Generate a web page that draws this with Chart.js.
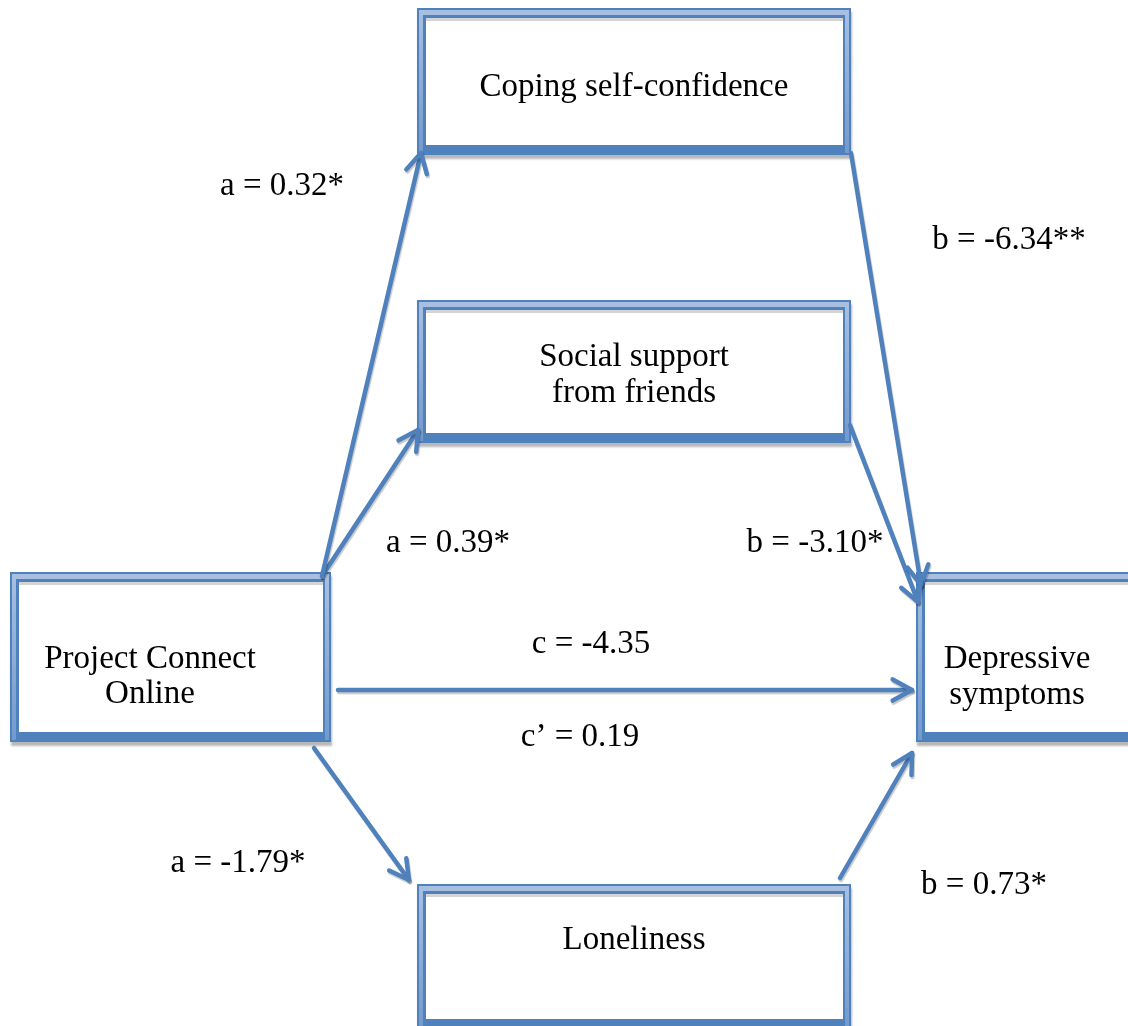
<!DOCTYPE html>
<html>
<head>
<meta charset="utf-8">
<script src="https://cdn.jsdelivr.net/npm/chart.js@4/dist/chart.umd.min.js"></script>
<style>
  html, body { margin: 0; padding: 0; background: #fff; }
  #wrap { width: 1128px; height: 1026px; }
</style>
</head>
<body>
<div id="wrap"><canvas id="pathChart" width="1128" height="1026"></canvas></div>
<script>
/* Mediation model: Project Connect Online -> mediators -> depressive symptoms */

// Data
const nodeNames = ['Project Connect\nOnline', 'Coping self-confidence', 'Social support\nfrom friends', 'Loneliness', 'Depressive\nsymptoms'];
const aCoef = [0.32, 0.39, -1.79];      // intervention -> mediator
const aSig = ['*', '*', '*'];
const bCoef = [-6.34, -3.10, 0.73];     // mediator -> outcome
const bSig = ['**', '*', '*'];
const cTotal = -4.35;
const cDirect = 0.19;

// Layout (pixels in the 1128 x 1026 drawing space)
const boxes = [
    { x0: 10, y0: 572, x1: 331, y1: 742, tx: 150, ty: [659, 694] },
    { x0: 417, y0: 8, x1: 851, y1: 155, tx: 634, ty: [87] },
    { x0: 417, y0: 300, x1: 851, y1: 443, tx: 634, ty: [357, 393] },
    { x0: 417, y0: 884, x1: 851, y1: 1029, tx: 634, ty: [940] },
    { x0: 916, y0: 572, x1: 1140, y1: 742, tx: 1017, ty: [659, 695] }
];
const arrows = [
    { from: { x: 322, y: 576 }, to: { x: 421, y: 153 } },
    { from: { x: 322, y: 576 }, to: { x: 418, y: 430 } },
    { from: { x: 314, y: 748 }, to: { x: 409, y: 880 } },
    { from: { x: 851, y: 153 }, to: { x: 921, y: 585 } },
    { from: { x: 850, y: 425 }, to: { x: 918, y: 602 } },
    { from: { x: 840, y: 878 }, to: { x: 912, y: 753 } },
    { from: { x: 338, y: 690 }, to: { x: 912, y: 690 } }
];
const aPos = [{ x: 282, y: 186 }, { x: 448, y: 543 }, { x: 238, y: 863 }];
const bPos = [{ x: 1009, y: 240 }, { x: 815, y: 543 }, { x: 984, y: 885 }];
const cPos = { x: 591, y: 644 };
const cDirPos = { x: 580, y: 737 };

const LINE = '#4f81bd';
const FONT = '33px "Liberation Serif", "Times New Roman", serif';

function fmt(v) { return v.toFixed(2); }

function drawBox(ctx, xs, ys, b) {
    const x0 = xs.getPixelForValue(b.x0), x1 = xs.getPixelForValue(b.x1);
    const y0 = ys.getPixelForValue(b.y0), y1 = ys.getPixelForValue(b.y1);
    ctx.save();
    ctx.shadowColor = 'rgba(0,0,0,0.28)';
    ctx.shadowOffsetX = 1;
    ctx.shadowOffsetY = 4;
    ctx.shadowBlur = 2;
    ctx.fillStyle = LINE;
    ctx.fillRect(x0, y0, x1 - x0, y1 - y0);
    ctx.restore();
    // bevel: light band top / left / right
    const g = ctx.createLinearGradient(0, y0, 0, y1);
    g.addColorStop(0, '#a9c0e2');
    g.addColorStop(1, '#7399cc');
    ctx.fillStyle = g;
    ctx.fillRect(x0 + 2, y0 + 2, x1 - x0 - 4, y1 - y0 - 4);
    ctx.fillStyle = LINE;
    ctx.fillRect(x0 + 6, y0 + 7, x1 - x0 - 12, y1 - y0 - 9);
    // inner white area
    ctx.fillStyle = '#ffffff';
    ctx.fillRect(x0 + 9, y0 + 10, x1 - x0 - 17, y1 - y0 - 20);
    // inner shadow under the top band
    ctx.fillStyle = '#d4d4d4';
    ctx.fillRect(x0 + 9, y0 + 10, x1 - x0 - 17, 3);
}

function drawHead(ctx, from, to) {
    const ang = Math.atan2(to.y - from.y, to.x - from.x);
    const len = 22, spread = 0.5;
    ctx.beginPath();
    ctx.moveTo(to.x - len * Math.cos(ang - spread), to.y - len * Math.sin(ang - spread));
    ctx.lineTo(to.x, to.y);
    ctx.lineTo(to.x - len * Math.cos(ang + spread), to.y - len * Math.sin(ang + spread));
    ctx.stroke();
}

const diagramPlugin = {
    id: 'diagram',
    beforeDatasetsDraw(chart) {
        const ctx = chart.ctx, xs = chart.scales.x, ys = chart.scales.y;
        boxes.forEach(b => drawBox(ctx, xs, ys, b));
        ctx.save();
        ctx.shadowColor = 'rgba(0,0,0,0.22)';
        ctx.shadowOffsetX = 1;
        ctx.shadowOffsetY = 2;
        ctx.shadowBlur = 1;
    },
    afterDatasetsDraw(chart) {
        const ctx = chart.ctx, xs = chart.scales.x, ys = chart.scales.y;
        // arrow heads
        ctx.strokeStyle = LINE;
        ctx.lineWidth = 4.5;
        ctx.lineCap = 'round';
        ctx.lineJoin = 'round';
        chart.data.datasets.forEach(ds => {
            const p = ds.data;
            const a = { x: xs.getPixelForValue(p[0].x), y: ys.getPixelForValue(p[0].y) };
            const b = { x: xs.getPixelForValue(p[1].x), y: ys.getPixelForValue(p[1].y) };
            drawHead(ctx, a, b);
        });
        ctx.restore();

        // texts
        ctx.save();
        ctx.fillStyle = '#000';
        ctx.font = FONT;
        ctx.textAlign = 'center';
        ctx.textBaseline = 'middle';
        nodeNames.forEach((name, i) => {
            const b = boxes[i];
            name.split('\n').forEach((line, j) => {
                ctx.fillText(line, xs.getPixelForValue(b.tx), ys.getPixelForValue(b.ty[j]));
            });
        });
        aCoef.forEach((v, i) => {
            ctx.fillText('a = ' + fmt(v) + aSig[i], xs.getPixelForValue(aPos[i].x), ys.getPixelForValue(aPos[i].y));
        });
        bCoef.forEach((v, i) => {
            ctx.fillText('b = ' + fmt(v) + bSig[i], xs.getPixelForValue(bPos[i].x), ys.getPixelForValue(bPos[i].y));
        });
        ctx.fillText('c = ' + fmt(cTotal), xs.getPixelForValue(cPos.x), ys.getPixelForValue(cPos.y));
        ctx.fillText('c\u2019 = ' + fmt(cDirect), xs.getPixelForValue(cDirPos.x), ys.getPixelForValue(cDirPos.y));
        ctx.restore();
    }
};

new Chart(document.getElementById('pathChart'), {
    type: 'scatter',
    data: {
        datasets: arrows.map(a => ({
            data: [a.from, a.to],
            showLine: true,
            borderColor: LINE,
            borderWidth: 4.5,
            borderCapStyle: 'round',
            pointRadius: 0,
            fill: false
        }))
    },
    options: {
        responsive: false,
        animation: false,
        layout: { padding: 0 },
        plugins: {
            legend: { display: false },
            tooltip: { enabled: false }
        },
        scales: {
            x: { type: 'linear', min: 0, max: 1128, display: false },
            y: { type: 'linear', min: 0, max: 1026, reverse: true, display: false }
        }
    },
    plugins: [diagramPlugin]
});
</script>
</body>
</html>
